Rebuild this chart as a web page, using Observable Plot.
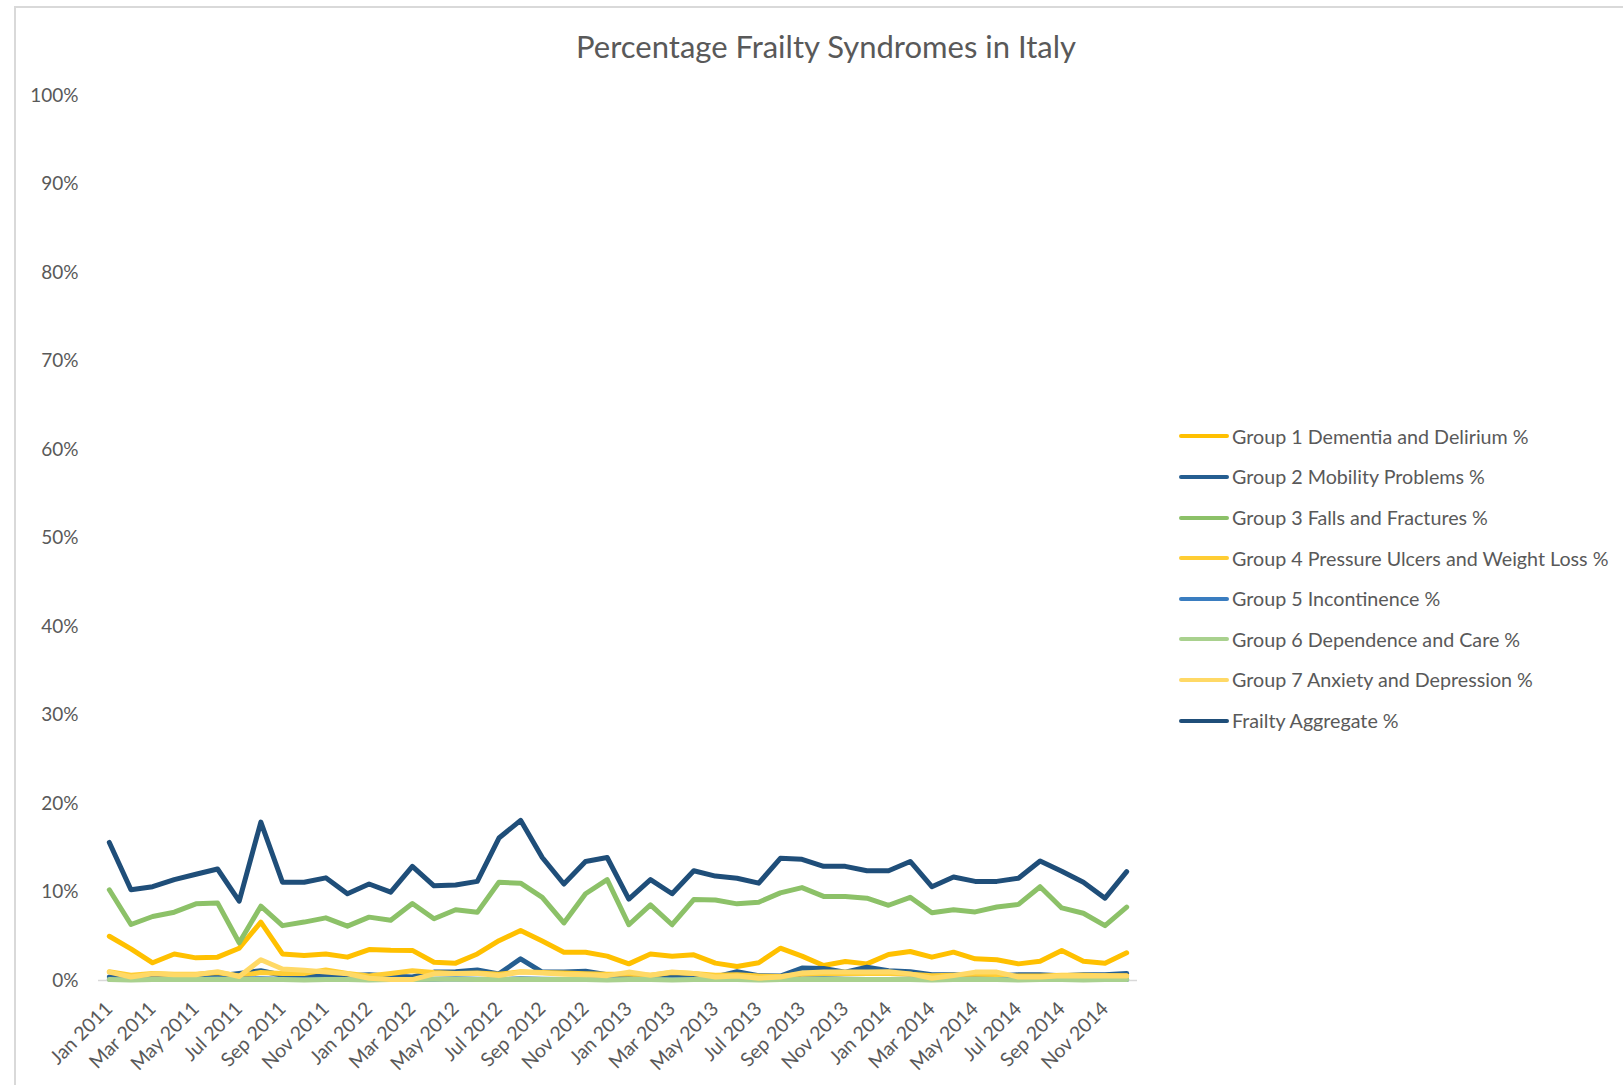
<!DOCTYPE html>
<html>
<head>
<meta charset="utf-8">
<script src="https://cdn.jsdelivr.net/npm/d3@7"></script>
<script src="https://cdn.jsdelivr.net/npm/@observablehq/plot@0.6"></script>
<style>
  body { margin: 0; background: #fff; overflow: hidden; }
  #wrap { position: relative; width: 1623px; height: 1085px; font-family: Lato, "Open Sans", sans-serif; overflow: hidden; }
  #frame { position: absolute; left: 14px; top: 6px; width: 1700px; height: 1200px; border-top: 2px solid #d9d9d9; border-left: 2px solid #d9d9d9; }
  #title { position: absolute; left: 0; width: 1652px; top: 31px; text-align: center; font-size: 31px; line-height: 31px; color: #595959; }
  #chart { position: absolute; left: 0; top: 0; }
  .leg { position: absolute; left: 1179px; height: 24px; display: flex; align-items: center; font-size: 19.7px; color: #595959; white-space: nowrap; }
  .leg .sw { width: 50px; height: 4px; border-radius: 2px; margin-right: 3px; }
</style>
</head>
<body>
<div id="wrap">
  <div id="frame"></div>
  <div id="title">Percentage Frailty Syndromes in Italy</div>
  <div id="chart"></div>
</div>
<script>
// Category labels (months)
const months = [
  "Jan 2011","Feb 2011","Mar 2011","Apr 2011","May 2011","Jun 2011","Jul 2011","Aug 2011","Sep 2011","Oct 2011","Nov 2011","Dec 2011",
  "Jan 2012","Feb 2012","Mar 2012","Apr 2012","May 2012","Jun 2012","Jul 2012","Aug 2012","Sep 2012","Oct 2012","Nov 2012","Dec 2012",
  "Jan 2013","Feb 2013","Mar 2013","Apr 2013","May 2013","Jun 2013","Jul 2013","Aug 2013","Sep 2013","Oct 2013","Nov 2013","Dec 2013",
  "Jan 2014","Feb 2014","Mar 2014","Apr 2014","May 2014","Jun 2014","Jul 2014","Aug 2014","Sep 2014","Oct 2014","Nov 2014","Dec 2014"
];

const seriesNames = [
  "Group 1 Dementia and Delirium %",
  "Group 2 Mobility Problems %",
  "Group 3 Falls and Fractures %",
  "Group 4 Pressure Ulcers and Weight Loss %",
  "Group 5 Incontinence %",
  "Group 6 Dependence and Care %",
  "Group 7 Anxiety and Depression %",
  "Frailty Aggregate %"
];

const seriesColors = ["#FFC000", "#255E91", "#8CC168", "#FFCD33", "#3A7DC0", "#A9D18E", "#FFD966", "#1F4E79"];

// Values in percent
const group1 = [5.0,3.58,2.0,3.0,2.56,2.64,3.65,6.6,3.0,2.82,3.0,2.64,
  3.5,3.42,3.4,2.07,1.96,3.0,4.5,5.65,4.45,3.2,3.2,2.75,
  1.88,3.0,2.75,2.9,1.96,1.58,2.0,3.65,2.75,1.7,2.15,1.88,
  2.94,3.28,2.64,3.2,2.45,2.34,1.88,2.18,3.4,2.18,1.96,3.13];
const group2 = [0.4,0.3,0.4,0.4,0.4,0.5,0.8,1.1,0.6,0.5,0.5,0.55,
  0.65,0.5,0.4,0.95,1.0,1.2,0.75,2.45,0.95,0.95,1.05,0.65,
  0.55,0.5,0.55,0.5,0.4,1.0,0.55,0.5,1.4,1.35,0.95,1.5,
  1.1,1.0,0.65,0.65,0.55,0.5,0.65,0.65,0.55,0.65,0.65,0.8];
const group3 = [10.25,6.33,7.23,7.72,8.66,8.77,4.26,8.4,6.2,6.6,7.08,6.14,
  7.16,6.8,8.7,6.97,8.0,7.7,11.1,11.0,9.4,6.5,9.8,11.4,
  6.3,8.55,6.3,9.15,9.1,8.66,8.85,9.9,10.5,9.5,9.5,9.3,
  8.5,9.4,7.65,8.0,7.75,8.3,8.6,10.6,8.2,7.6,6.2,8.3];
const group4 = [1.0,0.6,0.8,0.7,0.7,0.9,0.5,0.9,0.8,0.8,1.2,0.8,
  0.5,0.8,1.1,0.9,0.8,0.85,0.7,1.0,0.9,0.85,0.75,0.7,
  0.7,0.6,0.9,0.8,0.6,0.65,0.5,0.45,0.7,0.7,0.75,0.8,
  0.8,0.7,0.55,0.6,0.6,0.55,0.5,0.5,0.6,0.6,0.55,0.55];
const group5 = [0.15,0.1,0.15,0.1,0.15,0.2,0.15,0.2,0.15,0.1,0.15,0.1,
  0.1,0.15,0.1,0.15,0.2,0.15,0.1,0.2,0.15,0.1,0.15,0.1,
  0.15,0.1,0.1,0.15,0.1,0.15,0.1,0.1,0.15,0.2,0.15,0.1,
  0.1,0.15,0.1,0.1,0.15,0.1,0.1,0.15,0.1,0.1,0.15,0.1];
const group6 = [0.1,0.05,0.1,0.1,0.1,0.15,0.1,0.1,0.1,0.05,0.1,0.1,
  0.05,0.1,0.1,0.15,0.15,0.1,0.1,0.15,0.1,0.1,0.1,0.05,
  0.1,0.1,0.05,0.1,0.1,0.1,0.05,0.1,0.1,0.15,0.1,0.1,
  0.1,0.1,0.05,0.1,0.1,0.1,0.05,0.1,0.1,0.05,0.1,0.1];
const group7 = [0.95,0.4,0.75,0.65,0.65,1.0,0.45,2.35,1.3,1.15,0.95,0.75,
  0.25,0.1,0.1,0.75,0.8,0.8,0.55,0.95,0.85,0.7,0.65,0.55,
  0.95,0.6,0.95,0.8,0.4,0.5,0.25,0.4,0.85,0.95,0.95,0.95,
  1.0,0.75,0.25,0.55,0.95,0.95,0.4,0.4,0.55,0.5,0.55,0.5];
const aggregate = [15.6,10.25,10.6,11.4,12.0,12.6,8.96,17.9,11.1,11.1,11.6,9.8,
  10.9,9.98,12.9,10.7,10.8,11.2,16.1,18.1,13.9,10.9,13.45,13.9,
  9.2,11.4,9.8,12.4,11.8,11.56,11.0,13.8,13.7,12.9,12.9,12.4,
  12.4,13.45,10.6,11.7,11.2,11.2,11.56,13.5,12.35,11.1,9.3,12.3];

const yTicks = [0,10,20,30,40,50,60,70,80,90,100];

const seriesValues = [group1, group2, group3, group4, group5, group6, group7, aggregate];
const data = [];
seriesNames.forEach((name, s) => {
  seriesValues[s].forEach((v, i) => data.push({series: name, month: months[i], value: v}));
});

const plot = Plot.plot({
  width: 1623,
  height: 1085,
  marginTop: 95,
  marginBottom: 105,
  marginLeft: 98,
  marginRight: 486,
  style: {fontFamily: "Lato, 'Open Sans', sans-serif", fontSize: "19px", color: "#595959", background: "transparent"},
  x: {type: "point", domain: months, padding: 0.5, label: null},
  y: {domain: [0, 100], label: null},
  color: {domain: seriesNames, range: seriesColors},
  marks: [
    Plot.ruleY([0], {stroke: "#d9d9d9", strokeWidth: 1.5}),
    Plot.axisY({ticks: yTicks, tickFormat: d => d + "%", tickSize: 0, tickPadding: 20, fontSize: 19, fill: "#595959", label: null}),
    Plot.axisX({ticks: months.filter((d, i) => i % 2 === 0), tickRotate: -45, tickSize: 0, tickPadding: 25, fontSize: 19.5, fill: "#595959", label: null}),
    Plot.lineY(data, {x: "month", y: "value", z: "series", stroke: "series", strokeWidth: 5, strokeLinejoin: "round", strokeLinecap: "round"})
  ]
});
document.getElementById("chart").appendChild(plot);

// Legend
const wrap = document.getElementById("wrap");
seriesNames.forEach((name, k) => {
  const row = document.createElement("div");
  row.className = "leg";
  row.style.top = (436.3 + 40.6 * k - 12) + "px";
  const sw = document.createElement("span");
  sw.className = "sw";
  sw.style.background = seriesColors[k];
  const tx = document.createElement("span");
  tx.textContent = name;
  row.appendChild(sw);
  row.appendChild(tx);
  wrap.appendChild(row);
});
</script>
</body>
</html>
